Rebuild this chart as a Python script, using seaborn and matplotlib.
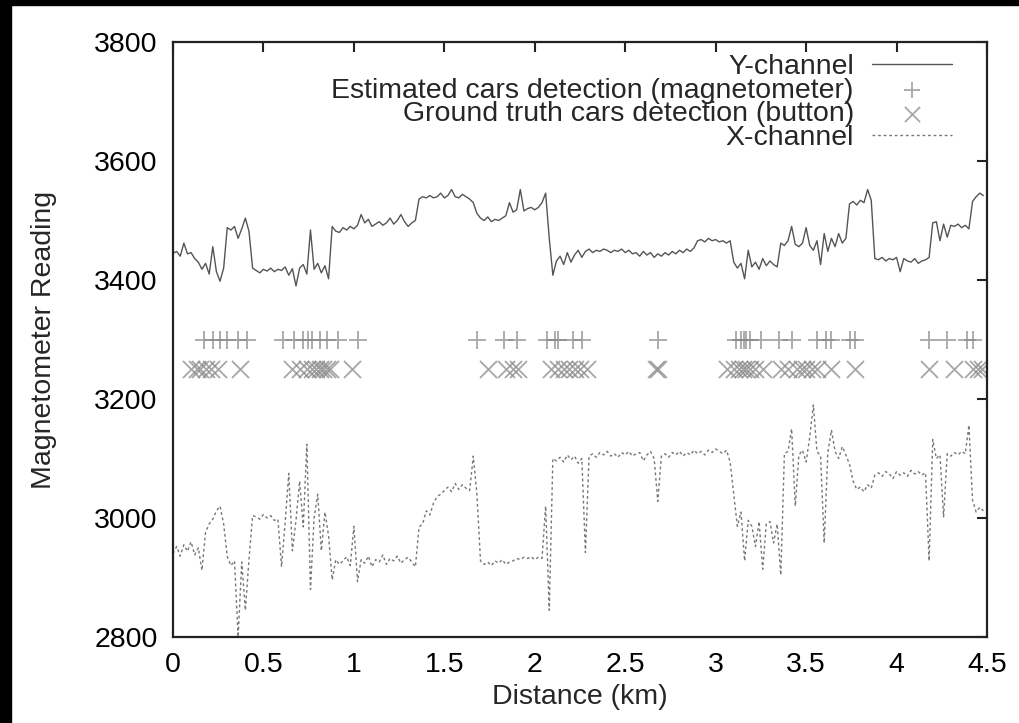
"""
Magnetometer readings (Y and X channel) along a 4.5 km drive,
with estimated and ground-truth car detections.
"""

import matplotlib
matplotlib.use("Agg")
import matplotlib.pyplot as plt
import matplotlib.patches as mpatches
import numpy as np
import seaborn as sns

# distance grid (km), one reading every 20 m
DISTANCE_KM = np.round(np.arange(0, 225) * 0.02, 2)

Y_CHANNEL = [
    3445, 3448, 3440, 3462, 3444, 3446, 3436, 3430, 3418, 3428,
    3410, 3456, 3414, 3398, 3420, 3488, 3484, 3490, 3470, 3486,
    3504, 3482, 3420, 3416, 3412, 3418, 3415, 3420, 3414, 3418,
    3416, 3422, 3408, 3419, 3390, 3420, 3426, 3410, 3484, 3418,
    3428, 3412, 3424, 3402, 3490, 3482, 3480, 3488, 3484, 3490,
    3486, 3492, 3510, 3496, 3502, 3490, 3494, 3498, 3492, 3496,
    3504, 3494, 3500, 3510, 3498, 3490, 3496, 3500, 3536, 3540,
    3538, 3542, 3538, 3540, 3546, 3538, 3542, 3552, 3540, 3538,
    3544, 3540, 3536, 3530, 3512, 3504, 3500, 3506, 3498, 3502,
    3500, 3504, 3508, 3530, 3514, 3518, 3552, 3516, 3520, 3522,
    3518, 3522, 3530, 3546, 3470, 3408, 3432, 3440, 3426, 3446,
    3430, 3442, 3450, 3438, 3448, 3452, 3446, 3450, 3448, 3452,
    3450, 3446, 3450, 3448, 3452, 3446, 3450, 3444, 3446, 3440,
    3448, 3442, 3446, 3438, 3444, 3440, 3446, 3442, 3448, 3444,
    3450, 3446, 3452, 3448, 3454, 3466, 3468, 3464, 3470, 3466,
    3468, 3464, 3466, 3462, 3466, 3430, 3420, 3428, 3402, 3450,
    3422, 3430, 3418, 3436, 3424, 3432, 3426, 3422, 3462, 3458,
    3466, 3490, 3460, 3456, 3462, 3488, 3458, 3450, 3466, 3426,
    3478, 3448, 3470, 3456, 3478, 3462, 3470, 3528, 3532, 3526,
    3534, 3530, 3552, 3534, 3436, 3434, 3438, 3432, 3436, 3434,
    3438, 3414, 3436, 3432, 3430, 3436, 3428, 3432, 3434, 3438,
    3496, 3498, 3466, 3494, 3472, 3492, 3490, 3494, 3488, 3492,
    3486, 3532, 3540, 3546, 3542,
]

X_CHANNEL = [
    2940, 2952, 2936, 2955, 2944, 2960, 2938, 2950, 2912, 2976,
    2990, 2998, 3012, 3020, 2990, 2935, 2920, 2928, 2800, 2926,
    2845, 2930, 3004, 3002, 2998, 3006, 3000, 3004, 2996, 2998,
    2918, 2992, 3075, 2945, 2996, 3062, 2985, 3124, 2880, 3000,
    3040, 2945, 3010, 2970, 2896, 2930, 2922, 2928, 2935, 2920,
    2986, 2893, 2930, 2924, 2936, 2918, 2930, 2926, 2938, 2922,
    2932, 2928, 2936, 2924, 2930, 2934, 2926, 2918, 2985, 2990,
    3012, 3005, 3025, 3036, 3040, 3046, 3052, 3044, 3058, 3048,
    3056, 3050, 3046, 3104, 3040, 2928, 2922, 2926, 2920, 2928,
    2924, 2930, 2922, 2926, 2928, 2932, 2930, 2934, 2932, 2935,
    2930, 2934, 2932, 3020, 2845, 3100, 3096, 3102, 3094, 3106,
    3098, 3104, 3092, 3100, 2942, 3104, 3108, 3102, 3110, 3106,
    3112, 3104, 3108, 3102, 3110, 3106, 3112, 3104, 3108, 3110,
    3096, 3106, 3112, 3100, 3028, 3104, 3108, 3102, 3110, 3106,
    3112, 3104, 3110, 3106, 3114, 3108, 3112, 3106, 3114, 3110,
    3116, 3112, 3108, 3114, 3094, 3040, 2986, 3010, 2928, 2996,
    2986, 2952, 2994, 2914, 2990, 2994, 2958, 2990, 2904, 3108,
    3112, 3150, 3020, 3106, 3114, 3094, 3136, 3190, 3112, 3104,
    2958, 3110, 3148, 3112, 3100, 3120, 3106, 3090, 3062, 3048,
    3052, 3044, 3056, 3050, 3072, 3076, 3070, 3078, 3074, 3066,
    3078, 3072, 3076, 3070, 3080, 3074, 3078, 3072, 3076, 2928,
    3132, 3100, 3106, 3002, 3108, 3104, 3110, 3106, 3112, 3108,
    3156, 3030, 3010, 3018, 3012,
]

# detections (km)
ESTIMATED_KM = [
    0.17, 0.22, 0.26, 0.30, 0.36, 0.41,
    0.61, 0.67, 0.72, 0.745, 0.77, 0.81, 0.85, 0.91, 1.02,
    1.68, 1.83, 1.90, 2.065, 2.11, 2.13, 2.21, 2.26, 2.68,
    3.11, 3.14, 3.155, 3.17, 3.19, 3.25, 3.35, 3.42, 3.56, 3.61,
    3.64, 3.74, 3.77, 4.18, 4.28, 4.39, 4.42,
]
GROUND_TRUTH_KM = [
    0.10, 0.13, 0.15, 0.18, 0.21, 0.25, 0.37,
    0.66, 0.70, 0.74, 0.77, 0.79, 0.81, 0.83, 0.85, 0.87, 0.99,
    1.74, 1.84, 1.88, 1.91, 2.09, 2.13, 2.16, 2.19, 2.22, 2.25, 2.29,
    2.67, 2.68, 3.06, 3.10, 3.13, 3.15, 3.17, 3.19, 3.22, 3.26,
    3.36, 3.40, 3.45, 3.48, 3.50, 3.53, 3.56, 3.64, 3.77,
    4.18, 4.32, 4.42, 4.45, 4.47,
]
ESTIMATED_LEVEL = 3300
GROUND_TRUTH_LEVEL = 3250

X_TICKS = [0, 0.5, 1, 1.5, 2, 2.5, 3, 3.5, 4, 4.5]
X_TICK_LABELS = ["0", "0.5", "1", "1.5", "2", "2.5", "3", "3.5", "4", "4.5"]
Y_TICKS = [2800, 3000, 3200, 3400, 3600, 3800]

FONT_SIZE = 20.5


def main() -> None:
    sns.set_theme(style="white")
    plt.rcParams["font.family"] = ["Liberation Sans", "DejaVu Sans"]
    plt.rcParams["xtick.direction"] = "in"
    plt.rcParams["ytick.direction"] = "in"

    fig = plt.figure(figsize=(10.2, 7.23), dpi=100)
    # dark screenshot border on the left and top
    fig.patches.append(mpatches.Rectangle((0, 0), 11 / 1020, 1, transform=fig.transFigure,
                                          color="black", zorder=-5))
    fig.patches.append(mpatches.Rectangle((0, 1 - 5 / 723), 1, 5 / 723, transform=fig.transFigure,
                                          color="black", zorder=-5))
    ax = fig.add_axes([173 / 1020, 86 / 723, 814 / 1020, 595 / 723])

    sns.lineplot(x=DISTANCE_KM, y=Y_CHANNEL, ax=ax, color="#555555", linewidth=1.0,
                 estimator=None, sort=False, label="Y-channel")
    sns.scatterplot(x=ESTIMATED_KM, y=[ESTIMATED_LEVEL] * len(ESTIMATED_KM), ax=ax,
                    marker="+", s=170, color="#8a8a8a", alpha=0.75, linewidth=1.3,
                    label="Estimated cars detection (magnetometer)")
    sns.scatterplot(x=GROUND_TRUTH_KM, y=[GROUND_TRUTH_LEVEL] * len(GROUND_TRUTH_KM), ax=ax,
                    marker="x", s=150, color="#8a8a8a", alpha=0.75, linewidth=1.3,
                    label="Ground truth cars detection (button)")
    sns.lineplot(x=DISTANCE_KM, y=X_CHANNEL, ax=ax, color="#777777", linewidth=1.0,
                 linestyle=(0, (2, 2)), estimator=None, sort=False, label="X-channel")

    ax.set_xlim(0, 4.5)
    ax.set_ylim(2800, 3800)
    ax.set_xticks(X_TICKS)
    ax.set_xticklabels(X_TICK_LABELS)
    ax.set_yticks(Y_TICKS)
    ax.tick_params(axis="both", which="both", top=True, right=True, length=7, width=1.5,
                   color="#222222", labelsize=FONT_SIZE, pad=11, labelcolor="black")
    for spine in ax.spines.values():
        spine.set_color("#222222")
        spine.set_linewidth(1.6)

    ax.set_xlabel("Distance (km)", fontsize=FONT_SIZE, labelpad=4)
    ax.set_ylabel("Magnetometer Reading", fontsize=FONT_SIZE, labelpad=27)

    leg = ax.legend(loc="upper right", bbox_to_anchor=(0.957, 0.980), frameon=False,
                    markerfirst=False, fontsize=FONT_SIZE, handlelength=2.8, handletextpad=0.65,
                    labelspacing=-0.08, borderpad=0, borderaxespad=0)
    for h in leg.legend_handles:
        if hasattr(h, "set_sizes"):
            h.set_sizes([120])

    fig.savefig("out.png", dpi=100)


if __name__ == "__main__":
    main()
